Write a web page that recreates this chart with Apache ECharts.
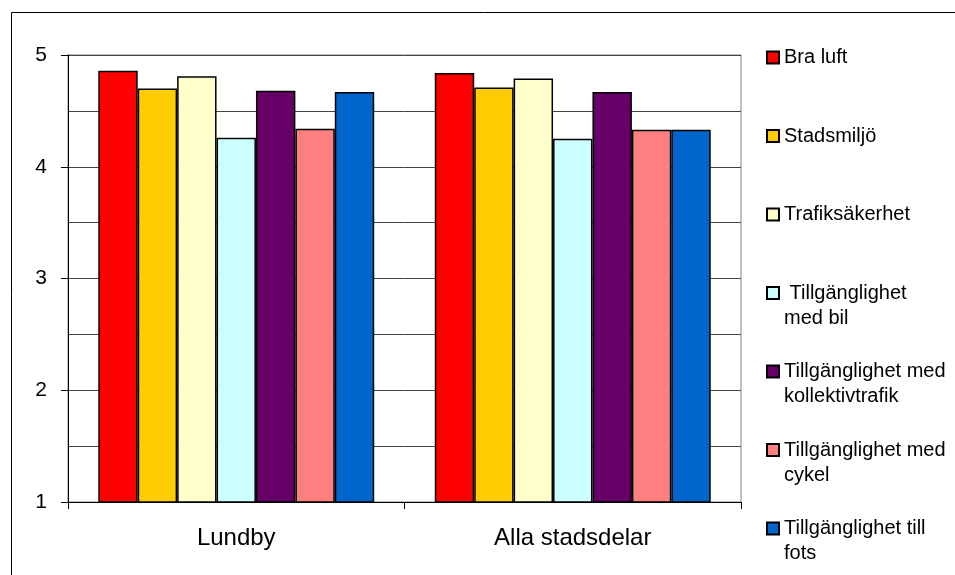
<!DOCTYPE html>
<html>
<head>
<meta charset="utf-8">
<script src="https://cdn.jsdelivr.net/npm/echarts@6/dist/echarts.min.js"></script>
<style>html,body{margin:0;padding:0;background:#fff}#c{width:955px;height:575px}</style>
</head>
<body>
<div id="c"></div>
<script>
const categories = ['Lundby', 'Alla stadsdelar'];
const seriesNames = ['Bra luft', 'Stadsmiljö', 'Trafiksäkerhet', ' Tillgänglighet med bil', 'Tillgänglighet med kollektivtrafik', 'Tillgänglighet med cykel', 'Tillgänglighet till fots'];
const legendLines = [['Bra luft'], ['Stadsmiljö'], ['Trafiksäkerhet'], [' Tillgänglighet', 'med bil'], ['Tillgänglighet med', 'kollektivtrafik'], ['Tillgänglighet med', 'cykel'], ['Tillgänglighet till', 'fots']];
const braLuft = [4.86, 4.84];
const stadsmiljo = [4.70, 4.71];
const trafiksakerhet = [4.81, 4.79];
const tillgBil = [4.26, 4.25];
const tillgKollektiv = [4.68, 4.67];
const tillgCykel = [4.34, 4.33];
const tillgFots = [4.67, 4.33];
const yTicks = [1, 2, 3, 4, 5];

const values = [braLuft, stadsmiljo, trafiksakerhet, tillgBil, tillgKollektiv, tillgCykel, tillgFots];
const colors = ['#FF0000', '#FFCC00', '#FFFFCC', '#CCFFFF', '#660066', '#FF8080', '#0066CC'];
const FONT = '"Liberation Sans", Arial, sans-serif';

const chart = echarts.init(document.getElementById('c'), null, {renderer: 'canvas'});
chart.setOption({
  animation: false,
  backgroundColor: '#fff',
  color: colors,
  graphic: [{
    type: 'rect', silent: true, z: 0,
    shape: {x: 11.5, y: 12.5, width: 980, height: 620},
    style: {fill: 'none', stroke: '#000', lineWidth: 1}
  }],
  grid: {left: 68, right: 214, top: 55, bottom: 73, show: true, borderColor: '#808080', borderWidth: 1, backgroundColor: 'transparent'},
  legend: {
    orient: 'vertical', left: 766, top: 20, padding: 0,
    itemWidth: 12, itemHeight: 12, itemGap: 3.5,
    icon: 'rect',
    data: seriesNames,
    selectedMode: false,
    formatter: function (name) {
      const l = legendLines[seriesNames.indexOf(name)];
      return l.length === 1 ? '\n' + l[0] + '\n' : '\n' + l[0] + '\n' + l[1];
    },
    textStyle: {fontFamily: FONT, fontSize: 20, color: '#000', lineHeight: 25}
  },
  xAxis: {
    type: 'category', data: categories,
    axisLine: {lineStyle: {color: '#000', width: 1}},
    axisTick: {show: true, length: 7, lineStyle: {color: '#000'}},
    axisLabel: {fontFamily: FONT, fontSize: 24, color: '#000', margin: 24},
    splitLine: {show: false}
  },
  yAxis: {
    type: 'value', min: 1, max: 5, interval: 1,
    axisLine: {show: true, lineStyle: {color: '#000', width: 1}},
    axisTick: {show: true, length: 7, lineStyle: {color: '#000'}},
    axisLabel: {fontFamily: FONT, fontSize: 21, color: '#000', margin: 21,
      formatter: function (v) { return yTicks.indexOf(v) >= 0 ? String(v) : ''; }},
    splitLine: {show: true, lineStyle: {color: '#444', width: 1}},
    minorTick: {show: false, splitNumber: 2},
    minorSplitLine: {show: true, lineStyle: {color: '#444', width: 1}}
  },
  series: seriesNames.map(function (n, i) {
    return {
      name: n, type: 'bar', data: values[i],
      barGap: 0, barCategoryGap: '18%',
      itemStyle: {color: colors[i], borderColor: '#000', borderWidth: 1.5}
    };
  })
});
</script>
</body>
</html>
